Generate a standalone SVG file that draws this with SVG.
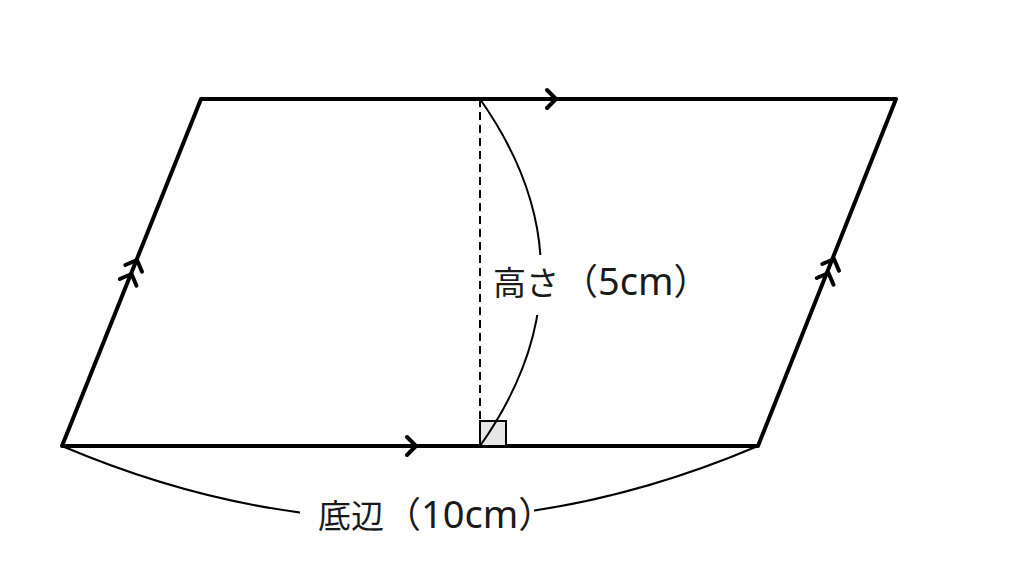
<svg xmlns="http://www.w3.org/2000/svg" width="1024" height="576" viewBox="0 0 1024 576">
<style>
.edge{fill:none;stroke:#000;stroke-width:4;stroke-linecap:round;stroke-linejoin:round}
.chev{fill:none;stroke:#000;stroke-width:4;stroke-linecap:round;stroke-linejoin:round}
.thin{fill:none;stroke:#000;stroke-width:2}
.dash{fill:none;stroke:#000;stroke-width:2;stroke-dasharray:8,5}
.lbl{font-family:"Noto Sans CJK JP","Noto Sans",sans-serif;font-size:33px;fill:#1a1a1a}
.par{font-size:36px}
.lat{font-family:"Noto Sans","Noto Sans CJK JP",sans-serif;font-size:38px}
</style>
<defs>
<path id="chev" class="chev" d="M-9,-9 L0,0 L-9,9"/>
</defs>
<rect width="1024" height="576" fill="#fff"/>
<g id="parallelogram">
<polygon class="edge" points="201,99 896,99 758,446 62,446"/>
</g>
<g id="height-line">
<line class="dash" x1="480" y1="99" x2="480" y2="446"/>
<rect x="480" y="421" width="26" height="25" fill="#e6e6e6" stroke="#000" stroke-width="2"/>
</g>
<g id="connectors">
<path class="thin" d="M480,99 Q602,272.5 480,446"/>
<path class="thin" d="M62,446 Q410,594 758,446"/>
<use href="#chev" transform="translate(556,99)"/>
<use href="#chev" transform="translate(416,446)"/>
<use href="#chev" transform="translate(137,260) rotate(-68.2)"/>
<use href="#chev" transform="translate(131.5,274) rotate(-68.2)"/>
<use href="#chev" transform="translate(834,259) rotate(-68.2)"/>
<use href="#chev" transform="translate(828.5,273) rotate(-68.2)"/>
</g>
<g id="label-height">
<rect x="490" y="255" width="202" height="60" fill="#fff"/>
<text class="lbl" x="493" y="295">高さ<tspan class="par" dx="3">（</tspan><tspan class="lat">5cm</tspan><tspan class="par">）</tspan></text>
</g>
<g id="label-base">
<rect x="300" y="494" width="234" height="46" fill="#fff"/>
<text class="lbl" x="318" y="528">底辺<tspan class="par" dx="1">（</tspan><tspan class="lat">10cm</tspan><tspan class="par">）</tspan></text>
</g>
</svg>
